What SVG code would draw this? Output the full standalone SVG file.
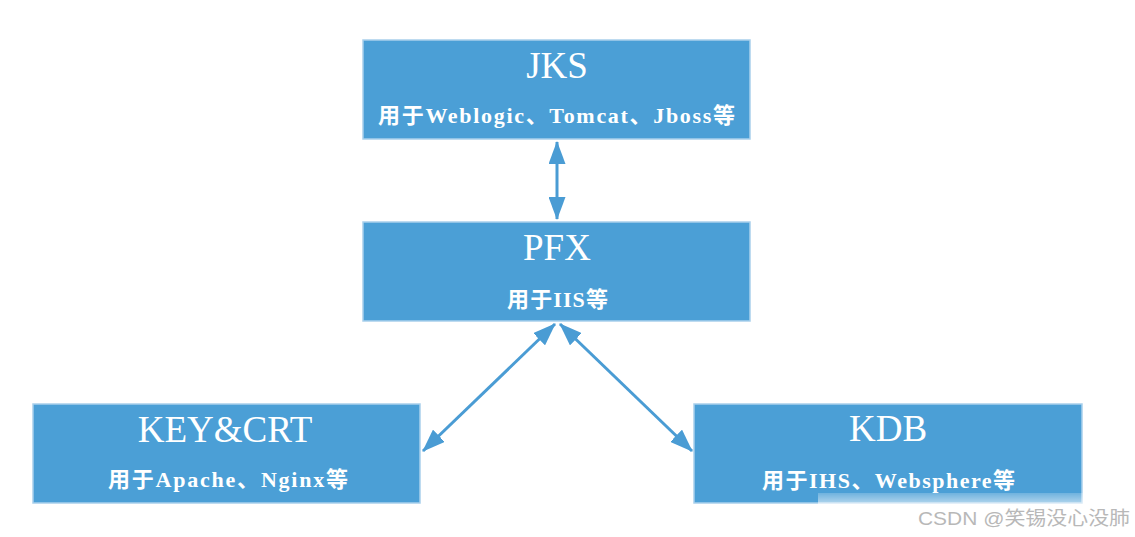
<svg xmlns="http://www.w3.org/2000/svg" width="1135" height="537" viewBox="0 0 1135 537">
<style>
.box{fill:#4b9fd6;stroke:#a9d0ec;stroke-width:1.5}
.title{font-family:"Liberation Serif","Times New Roman",serif;font-size:37px;fill:#ffffff;text-anchor:middle}
.sub{font-family:"Liberation Serif","Noto Sans CJK SC",serif;font-size:22px;font-weight:bold;fill:#ffffff}
.conn{stroke:#4a9cd4;stroke-width:3;fill:none;marker-start:url(#ah);marker-end:url(#ah)}
.wm{font-family:"Liberation Sans","Noto Sans CJK SC",sans-serif;font-size:19px;fill:#b8b8b8}
</style>
<defs>
<marker id="ah" markerUnits="userSpaceOnUse" markerWidth="23" markerHeight="17" refX="22" refY="8.5" orient="auto-start-reverse" viewBox="0 0 23 17">
<path d="M0,0 L23,8.5 L0,17 z" fill="#4a9cd4"/>
</marker>
<linearGradient id="fade" x1="0" y1="0" x2="0" y2="1">
<stop offset="0" stop-color="#ffffff" stop-opacity="0.2"/>
<stop offset="1" stop-color="#ffffff" stop-opacity="0.9"/>
</linearGradient>
</defs>
<rect width="1135" height="537" fill="#ffffff"/>
<g id="connectors">
<line class="conn" x1="557" y1="142" x2="557" y2="219"/>
<line class="conn" x1="555" y1="324" x2="423" y2="451"/>
<line class="conn" x1="560" y1="324" x2="692" y2="451"/>
</g>
<g id="node-jks">
<rect class="box" x="363" y="40" width="387" height="99"/>
<text class="title" x="557" y="78">JKS</text>
<text class="sub" x="378" y="123" textLength="357" lengthAdjust="spacing">用于Weblogic、Tomcat、Jboss等</text>
</g>
<g id="node-pfx">
<rect class="box" x="363" y="222" width="387" height="99"/>
<text class="title" x="557" y="260">PFX</text>
<text class="sub" x="507" y="307" textLength="101" lengthAdjust="spacing">用于IIS等</text>
</g>
<g id="node-keycrt">
<rect class="box" x="33" y="404" width="387" height="99"/>
<text class="title" x="225" y="442">KEY&amp;CRT</text>
<text class="sub" x="108" y="487" textLength="240" lengthAdjust="spacing">用于Apache、Nginx等</text>
</g>
<g id="node-kdb">
<rect class="box" x="694" y="404" width="388" height="99"/>
<text class="title" x="888" y="441">KDB</text>
<text class="sub" x="762" y="488" textLength="253" lengthAdjust="spacing">用于IHS、Websphere等</text>
</g>
<rect x="818" y="493" width="272" height="20" fill="url(#fade)"/>
<text class="wm" x="918" y="525" textLength="212" lengthAdjust="spacingAndGlyphs">CSDN @笑锡没心没肺</text>
</svg>
